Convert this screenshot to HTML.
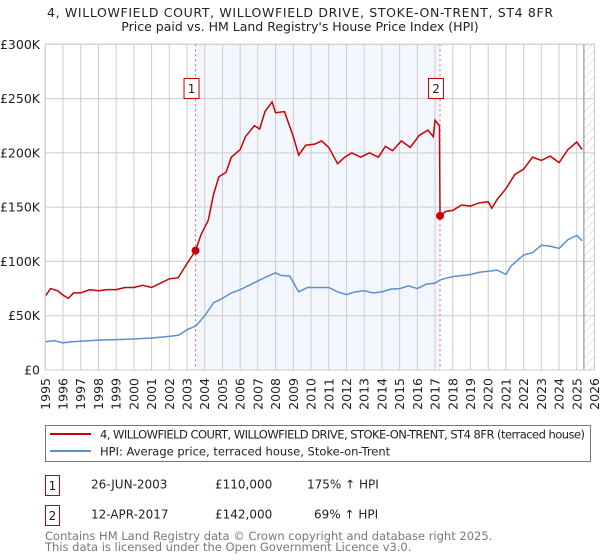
<!DOCTYPE html>
<html><head><meta charset="utf-8"><style>
html,body{margin:0;padding:0;background:#fff;}
svg{display:block;font-family:"DejaVu Sans","Liberation Sans",sans-serif;}
</style></head><body>
<svg id="chart" width="600" height="560" viewBox="0 0 600 560">
<defs>
<pattern id="hatch" patternUnits="userSpaceOnUse" width="6" height="6" patternTransform="rotate(45)">
<line x1="0" y1="0" x2="0" y2="6" stroke="#c8c8c8" stroke-width="1"/>
</pattern>
</defs>
<text x="300" y="17" text-anchor="middle" font-size="12.5" fill="#222" textLength="506">4, WILLOWFIELD COURT, WILLOWFIELD DRIVE, STOKE-ON-TRENT, ST4 8FR</text>
<text x="300" y="31" text-anchor="middle" font-size="12.5" fill="#222">Price paid vs. HM Land Registry's House Price Index (HPI)</text>
<g id="plot"></g>
<g>
<rect x="45.5" y="425.5" width="545" height="36" fill="#fff" stroke="#777"/>
<line x1="50" y1="434" x2="91" y2="434" stroke="#cc0000" stroke-width="2"/>
<text x="100" y="438.5" font-size="11.5" fill="#222" textLength="485">4, WILLOWFIELD COURT, WILLOWFIELD DRIVE, STOKE-ON-TRENT, ST4 8FR (terraced house)</text>
<line x1="50" y1="451" x2="91" y2="451" stroke="#5b8fd0" stroke-width="2"/>
<text x="100" y="455.5" font-size="11.5" fill="#222">HPI: Average price, terraced house, Stoke-on-Trent</text>
</g>
<g>
<rect x="45.5" y="475.5" width="14" height="20" fill="#fff" stroke="#cc0000"/>
<text x="52.5" y="490" text-anchor="middle" font-size="12" fill="#222">1</text>
<text x="91" y="488.5" font-size="12" fill="#222">26-JUN-2003</text>
<text x="215" y="488.5" font-size="12" fill="#222">£110,000</text>
<text x="307" y="488.5" font-size="12" fill="#222">175% ↑ HPI</text>
<rect x="45.5" y="505.5" width="14" height="20" fill="#fff" stroke="#cc0000"/>
<text x="52.5" y="520" text-anchor="middle" font-size="12" fill="#222">2</text>
<text x="91" y="518.5" font-size="12" fill="#222">12-APR-2017</text>
<text x="215" y="518.5" font-size="12" fill="#222">£142,000</text>
<text x="314" y="518.5" font-size="12" fill="#222">69% ↑ HPI</text>
</g>
<text x="45" y="540" font-size="11.5" fill="#777">Contains HM Land Registry data © Crown copyright and database right 2025.</text>
<text x="45" y="551" font-size="11.5" fill="#777">This data is licensed under the Open Government Licence v3.0.</text>
</svg>
<script>
const hpiYears=[1995,1995.5,1996,1996.5,1997,1998,1999,2000,2001,2002,2002.5,2003,2003.5,2004,2004.5,2005,2005.5,2006,2006.5,2007,2007.5,2008,2008.3,2008.8,2009.3,2009.8,2010.5,2011,2011.5,2012,2012.5,2013,2013.5,2014,2014.5,2015,2015.5,2016,2016.5,2017,2017.3,2017.5,2018,2019,2019.5,2020,2020.5,2021,2021.3,2022,2022.5,2023,2023.5,2024,2024.5,2025,2025.3];
const hpiValues=[26,27,25,26,26.5,27.5,28,28.5,29.5,31,32,37,40.6,50,62,66,71,74,78,82,86,89.5,87,86.5,72,76,76,76,72,69.5,72,73,71,72,74.5,75,77.5,75,79,80,83,84,86,88,90,91,92,88,96,106,108,115,114,112,120,124,119];
const redYears=[1995,1995.3,1995.7,1996,1996.3,1996.6,1997,1997.5,1998,1998.5,1999,1999.5,2000,2000.5,2001,2001.5,2002,2002.5,2003,2003.48,2003.8,2004.2,2004.5,2004.8,2005.2,2005.5,2006,2006.3,2006.8,2007.1,2007.4,2007.8,2008,2008.5,2009,2009.3,2009.7,2010.2,2010.6,2011,2011.5,2011.9,2012.3,2012.8,2013.3,2013.8,2014.2,2014.6,2015.1,2015.6,2016.1,2016.6,2016.9,2017,2017.25,2017.28,2017.6,2018,2018.5,2019,2019.5,2020,2020.2,2020.5,2021,2021.5,2022,2022.5,2023,2023.5,2024,2024.5,2025,2025.3];
const redValues=[68,75,73,69,66,71,71,74,73,74,74,76,76,78,76,80,84,85,98,110,125,138,162,178,182,196,203,215,225,222,238,247,237,238,215,198,207,208,211,205,190,196,200,196,200,196,206,202,211,205,216,221,215,230,225,142,146,147,152,151,154,155,149,157,167,180,185,196,193,197,191,203,210,203];
const saleYears=[2003.48,2017.28];
const salePrices=[110,142];
const saleLabels=["1","2"];
const yTicks=[0,50,100,150,200,250,300];
const yTickLabels=["£0","£50K","£100K","£150K","£200K","£250K","£300K"];
const xTicks=[1995,1996,1997,1998,1999,2000,2001,2002,2003,2004,2005,2006,2007,2008,2009,2010,2011,2012,2013,2014,2015,2016,2017,2018,2019,2020,2021,2022,2023,2024,2025,2026];
const dataEnd=2025.4;

const NS="http://www.w3.org/2000/svg";
const L=45.3,R=594.5,T=44.3,B=370;
const X=y=>L+(y-1995)/(2026-1995)*(R-L);
const Y=v=>B-v/300*(B-T);
const g=document.getElementById('plot');
function mk(tag,attrs,parent){const e=document.createElementNS(NS,tag);for(const k in attrs)e.setAttribute(k,attrs[k]);(parent||g).appendChild(e);return e;}

let e=mk('rect',{x:X(saleYears[0]),y:T,width:X(saleYears[1])-X(saleYears[0]),height:B-T,fill:'#eef3fc',opacity:0.7});


e=mk('rect',{x:X(dataEnd),y:T,width:R-X(dataEnd),height:B-T,fill:'url(#hatch)'});



xTicks.forEach(t=>{
  const l=mk('line',{x1:X(t),x2:X(t),y1:T,y2:B,stroke:'#cccccc','stroke-width':1});
  
  
  const tx=mk('text',{x:0,y:0,'font-size':12.5,fill:'#222','text-anchor':'end',transform:`translate(${X(t)+4.5},${B+8}) rotate(-90)`});
  tx.textContent=t;
  
  
});
yTicks.forEach((t,i)=>{
  const l=mk('line',{x1:L,x2:R,y1:Y(t),y2:Y(t),stroke:'#cccccc','stroke-width':1});
  
  
  const tx=mk('text',{x:40,y:Y(t)+4.5,'font-size':12.5,fill:'#222','text-anchor':'end'});
  tx.textContent=yTickLabels[i];
  
  
});
e=mk('line',{x1:X(dataEnd),x2:X(dataEnd),y1:T,y2:B,stroke:'#999','stroke-width':1.2});



saleYears.forEach((s,i)=>{
  const l=mk('line',{x1:X(s),x2:X(s),y1:T,y2:B,stroke:'#e06060','stroke-width':1,'stroke-dasharray':'2,3'});
  
  
});

e=mk('polyline',{points:hpiYears.map((y,i)=>X(y)+','+Y(hpiValues[i])).join(' '),fill:'none',stroke:'#5b8fd0','stroke-width':1.5});


e=mk('polyline',{points:redYears.map((y,i)=>X(y)+','+Y(redValues[i])).join(' '),fill:'none',stroke:'#cc0000','stroke-width':1.5});



saleYears.forEach((s,i)=>{
  const c=mk('circle',{cx:X(s),cy:Y(salePrices[i]),r:4,fill:'#cc0000'});
  
  
  const bx=X(s)-11.5;
  const r=mk('rect',{x:bx,y:78.5,width:15,height:20,fill:'#fff',stroke:'#cc0000'});
  
  
  const t=mk('text',{x:bx+7.5,y:93,'font-size':12,fill:'#222','text-anchor':'middle'});
  t.textContent=saleLabels[i];
  
  
});
e=mk('rect',{x:L,y:T,width:R-L,height:B-T,fill:'none',stroke:'#cccccc'});


</script>
</body></html>
